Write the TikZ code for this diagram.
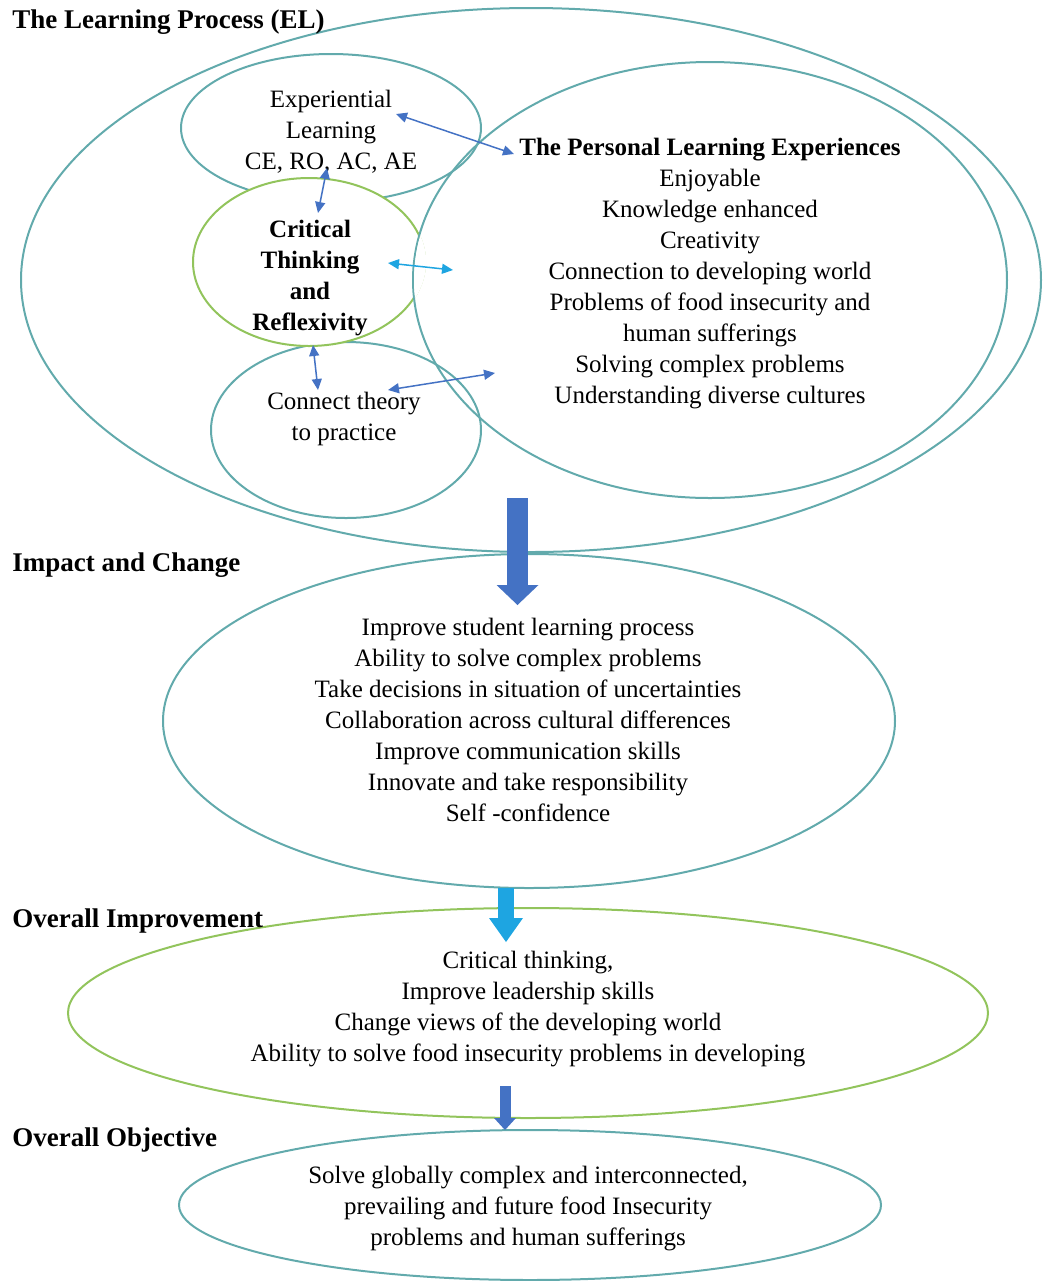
\documentclass[tikz,border=0pt]{standalone}
\usepackage{fontspec}
\setmainfont{Liberation Serif}
\usetikzlibrary{arrows.meta,shapes.geometric}

\definecolor{tealline}{RGB}{98,170,172}
\definecolor{greenline}{RGB}{146,196,92}
\definecolor{linkblue}{RGB}{68,114,196}
\definecolor{linkcyan}{RGB}{30,165,225}

\begin{document}
\begin{tikzpicture}[
  x=0.5pt, y=-0.5pt,
  zone/.style={
    ellipse, draw=tealline, line width=1pt, inner sep=0pt,
  },
  greenzone/.style={
    zone, draw=greenline
  },
  body/.style={
    align=center, inner sep=0pt,
    font=\fontsize{12.5}{15.5}\selectfont
  },
  heading/.style={
    anchor=base west, inner sep=0pt,
    font=\fontsize{13.5}{16}\selectfont\bfseries
  },
  link/.style={
    draw=linkblue, line width=0.75pt,
    {Triangle[length=5.5pt,width=5pt]}-{Triangle[length=5.5pt,width=5pt]}
  }
  ]
  \useasboundingbox (0,0) rectangle (1044,1281);

  % the learning process
  \node[zone, minimum width=510pt, minimum height=272pt] (learning) at (531,280) {};
  \node[zone, minimum width=150pt, minimum height=74pt] (experiential) at (331,128) {};
  \node[zone, fill=white, minimum width=135pt, minimum height=88pt] (connect) at (346,430) {};
  \node[greenzone, fill=white, minimum width=116pt, minimum height=84pt] (critical) at (309,262) {};
  \node[zone, minimum width=297pt, minimum height=218pt] (personal) at (710,280) {};
  \begin{scope}
    \clip (personal.center) ellipse [x radius=148pt, y radius=108.5pt];
    \fill[white] (critical.center) ellipse [x radius=58.6pt, y radius=42.6pt];
  \end{scope}

  \node[body] (exptext) at (331,132) {Experiential\\Learning\\CE, RO, AC, AE};
  \node[body, font=\fontsize{12.5}{15.5}\selectfont\bfseries] (crittext) at (310,278)
    {Critical\\Thinking\\and\\Reflexivity};
  \node[body] (context) at (344,419) {Connect theory\\to practice};
  \node[body] (pertext) at (710,274) {\textbf{The Personal Learning Experiences}\\
    Enjoyable\\Knowledge enhanced\\Creativity\\Connection to developing world\\
    Problems of food insecurity and\\human sufferings\\Solving complex problems\\
    Understanding diverse cultures};

  \coordinate (expout) at (396,114);
  \coordinate (perin) at (514,154);
  \coordinate (expdown) at (327,168);
  \coordinate (critup) at (318,213);
  \coordinate (critright) at (388,263);
  \coordinate (perleft) at (453,270);
  \coordinate (critdown) at (313,345);
  \coordinate (conup) at (318,390);
  \coordinate (conright) at (388,390);
  \coordinate (perlow) at (495,373);
  \draw[link] (expout) -- (perin);
  \draw[link] (expdown) -- (critup);
  \draw[link, draw=linkcyan] (critright) -- (perleft);
  \draw[link] (critdown) -- (conup);
  \draw[link] (conright) -- (perlow);

  % impact, improvement, objective
  \node[zone, minimum width=366pt, minimum height=167pt] (impact) at (529,721) {};
  \node[greenzone, minimum width=460pt, minimum height=105pt] (improvement) at (528,1013) {};
  \node[zone, minimum width=351pt, minimum height=75pt] (objective) at (530,1205) {};

  \node[body] (imptext) at (528,720) {Improve student learning process\\
    Ability to solve complex problems\\Take decisions in situation of uncertainties\\
    Collaboration across cultural differences\\Improve communication skills\\
    Innovate and take responsibility\\Self -confidence};
  \node[body] (improvtext) at (528,1009) {Critical thinking,\\Improve leadership skills\\
    Change views of the developing world\\
    Ability to solve food insecurity problems in developing};
  \node[body] (objtext) at (528,1209) {Solve globally complex and interconnected,\\
    prevailing and future food Insecurity\\problems and human sufferings};

  \coordinate (learnout) at (517.5,498);
  \coordinate (impactin) at (517.5,605);
  \coordinate (impactout) at (506,888);
  \coordinate (improvin) at (506,942);
  \coordinate (improvout) at (505,1086);
  \coordinate (objin) at (505,1130);
  \draw[linkblue, line width=10.5pt,
    -{Triangle[length=10pt,width=21pt,line width=0pt]}] (learnout) -- (impactin);
  \draw[linkcyan, line width=8pt,
    -{Triangle[length=12pt,width=17pt,line width=0pt]}] (impactout) -- (improvin);
  \draw[linkblue, line width=5.5pt,
    -{Triangle[length=6pt,width=11pt,line width=0pt]}] (improvout) -- (objin);

  % headings
  \node[heading] (lptitle) at (12,28) {The Learning Process (EL)};
  \node[heading] (ictitle) at (12,571) {Impact and Change};
  \node[heading] (oititle) at (12,927) {Overall Improvement};
  \node[heading] (ootitle) at (12,1146) {Overall Objective};
\end{tikzpicture}
\end{document}
